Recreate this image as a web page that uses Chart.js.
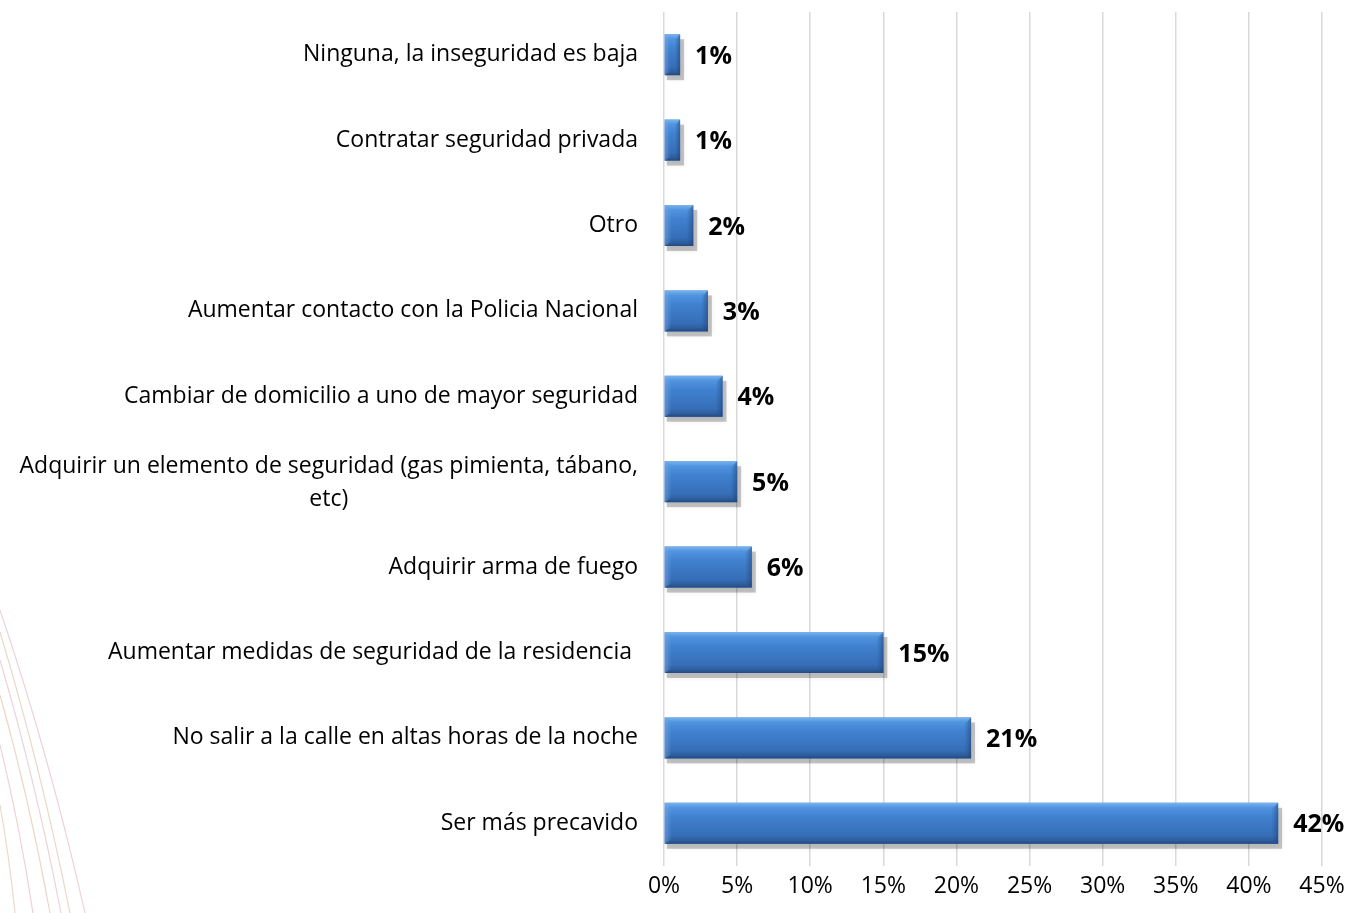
<!DOCTYPE html>
<html>
<head>
<meta charset="utf-8">
<script src="https://cdn.jsdelivr.net/npm/chart.js@4.4.1/dist/chart.umd.min.js"></script>
<style>
  html, body { margin: 0; padding: 0; background: #ffffff; }
  #wrap { width: 1345px; height: 913px; position: relative; }
</style>
</head>
<body>
<div id="wrap"><canvas id="c"></canvas></div>
<script>
const categories = [
  "Ninguna, la inseguridad es baja",
  "Contratar seguridad privada",
  "Otro",
  "Aumentar contacto con la Policia Nacional",
  "Cambiar de domicilio a uno de mayor seguridad",
  ["Adquirir un elemento de seguridad (gas pimienta, tábano,", "etc)"],
  "Adquirir arma de fuego",
  "Aumentar medidas de seguridad de la residencia ",
  "No salir a la calle en altas horas de la noche",
  "Ser más precavido"
];
const values = [1.1, 1.1, 2.0, 3.0, 4.0, 5.0, 6.0, 15.0, 21.0, 42.0];
const valueLabels = ["1%", "1%", "2%", "3%", "4%", "5%", "6%", "15%", "21%", "42%"];
const xTicks = [0, 5, 10, 15, 20, 25, 30, 35, 40, 45];

const FONT = "'Open Sans', 'DejaVu Sans', sans-serif";

const bgArcs = {
  id: 'bgArcs',
  beforeDraw(chart) {
    const ctx = chart.ctx;
    const starts = [610, 632, 660, 695, 745, 805];
    const ends = [85, 70, 61, 50, 33, 15];
    ctx.save();
    ctx.lineWidth = 1.1;
    for (let i = 0; i < starts.length; i++) {
      ctx.strokeStyle = i % 2 ? 'rgba(225,190,165,0.65)' : 'rgba(232,180,185,0.65)';
      const sy = starts[i], ex = ends[i];
      const mx = ex / 2, my = (sy + 913) / 2;
      ctx.beginPath();
      ctx.moveTo(0, sy);
      ctx.quadraticCurveTo(mx + ex * 0.08, my - 6, ex, 913);
      ctx.stroke();
    }
    ctx.restore();
  }
};

const barStyle = {
  id: 'barStyle',
  beforeDatasetsDraw(chart) {
    const ctx = chart.ctx;
    const meta = chart.getDatasetMeta(0);
    ctx.save();
    meta.data.forEach(el => {
      const x0 = el.base, x1 = el.x, h = el.height;
      const y0 = el.y - h / 2;
      ctx.fillStyle = 'rgba(0,0,0,0.22)';
      ctx.shadowColor = 'rgba(0,0,0,0.35)';
      ctx.shadowBlur = 5;
      ctx.fillRect(x0 + 2, y0 + 5, x1 - x0 + 2, h);
    });
    ctx.restore();
  },
  afterDatasetsDraw(chart) {
    const ctx = chart.ctx;
    const meta = chart.getDatasetMeta(0);
    ctx.save();
    meta.data.forEach((el, i) => {
      const x0 = el.base, x1 = el.x, h = el.height;
      const y0 = el.y - h / 2, y1 = el.y + h / 2;
      const g = ctx.createLinearGradient(0, y0, 0, y1);
      g.addColorStop(0, '#7ab4ee');
      g.addColorStop(0.12, '#5093df');
      g.addColorStop(0.35, '#4081cf');
      g.addColorStop(0.8, '#366eb7');
      g.addColorStop(0.92, '#2d5e9e');
      g.addColorStop(1, '#24497c');
      ctx.fillStyle = g;
      ctx.fillRect(x0, y0, x1 - x0, h);
      const bw = Math.min(7, (x1 - x0) * 0.35);
      const gr = ctx.createLinearGradient(x1 - bw, 0, x1, 0);
      gr.addColorStop(0, 'rgba(40,80,140,0)');
      gr.addColorStop(1, 'rgba(30,60,110,0.55)');
      ctx.fillStyle = gr;
      ctx.beginPath();
      ctx.moveTo(x1 - bw, y0 + bw);
      ctx.lineTo(x1, y0);
      ctx.lineTo(x1, y1);
      ctx.lineTo(x1 - bw, y1 - bw * 0.6);
      ctx.closePath();
      ctx.fill();
      const gl = ctx.createLinearGradient(x0, 0, x0 + bw, 0);
      gl.addColorStop(0, 'rgba(120,170,230,0.6)');
      gl.addColorStop(1, 'rgba(120,170,230,0)');
      ctx.fillStyle = gl;
      ctx.beginPath();
      ctx.moveTo(x0, y0);
      ctx.lineTo(x0 + bw, y0 + bw);
      ctx.lineTo(x0 + bw, y1 - bw * 0.6);
      ctx.lineTo(x0, y1);
      ctx.closePath();
      ctx.fill();
      ctx.fillStyle = '#000000';
      ctx.font = "bold 25px " + FONT;
      ctx.textAlign = 'left';
      ctx.textBaseline = 'middle';
      ctx.fillText(valueLabels[i], x1 + 15, el.y + 2);
    });
    ctx.restore();
  }
};

const yLabels = {
  id: 'yLabels',
  afterDraw(chart) {
    const ctx = chart.ctx;
    const ys = chart.scales.y;
    const right = chart.chartArea.left - 26;
    ctx.save();
    ctx.fillStyle = '#000000';
    ctx.font = "23px " + FONT;
    ctx.textBaseline = 'middle';
    categories.forEach((lab, i) => {
      const y = ys.getPixelForValue(i);
      if (Array.isArray(lab)) {
        const w0 = ctx.measureText(lab[0]).width;
        const cx = right - w0 / 2;
        ctx.textAlign = 'center';
        const lh = 33;
        lab.forEach((line, k) => {
          ctx.fillText(line, cx, y + 1 + (k - (lab.length - 1) / 2) * lh);
        });
      } else {
        ctx.textAlign = 'right';
        ctx.fillText(lab, right, y);
      }
    });
    ctx.restore();
  }
};

new Chart(document.getElementById('c'), {
  type: 'bar',
  data: {
    labels: categories,
    datasets: [{
      data: values,
      backgroundColor: '#4081cf',
      borderWidth: 0,
      barPercentage: 0.96,
      categoryPercentage: 0.5
    }]
  },
  options: {
    indexAxis: 'y',
    responsive: true,
    maintainAspectRatio: false,
    animation: false,
    layout: { padding: { top: 12, right: 23, left: 0, bottom: 0 } },
    plugins: { legend: { display: false }, tooltip: { enabled: false } },
    scales: {
      x: {
        min: 0, max: 45,
        afterBuildTicks(scale) { scale.ticks = xTicks.map(v => ({ value: v })); },
        afterFit(scale) { scale.height = 47; scale.paddingRight = 0; scale.paddingLeft = 0; },
        grid: { color: '#d9d9d9', lineWidth: 1.5, drawTicks: false },
        border: { display: false },
        ticks: {
          padding: 7,
          color: '#000000',
          font: { family: FONT, size: 23 },
          callback: v => v + '%'
        }
      },
      y: {
        afterFit(scale) { scale.width = 664; },
        grid: { display: false },
        border: { display: false },
        ticks: { display: false }
      }
    }
  },
  plugins: [bgArcs, barStyle, yLabels]
});
</script>
</body>
</html>
